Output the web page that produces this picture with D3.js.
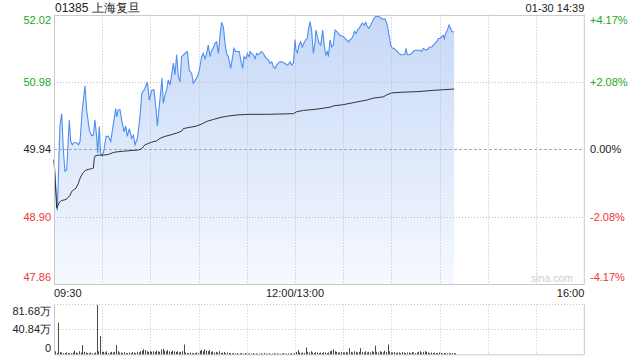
<!DOCTYPE html>
<html><head><meta charset="utf-8">
<script src="https://cdn.jsdelivr.net/npm/d3@7"></script>
<style>body{margin:0;background:#fff} svg text{font-family:"Liberation Sans",Arial,sans-serif}</style>
</head><body><svg id="c" width="640" height="360"></svg>
<script>
const title = "01385 上海复旦";
const stamp = "01-30 14:39";
const prevClose = 49.94;
const priceTicks = [52.02, 50.98, 49.94, 48.90, 47.86];
const pctTicks = ["+4.17%", "+2.08%", "0.00%", "-2.08%", "-4.17%"];
const timeTicks = [0, 150, 330];
const timeLabels = ["09:30", "12:00/13:00", "16:00"];
const totalMinutes = 330;
const volTicks = [81.68, 40.84, 0];
const volLabels = ["81.68万", "40.84万", "0"];

// minutes since 09:30 (afternoon continues at 150 = 13:00)
const priceMinutes = [0,2.1,3.7,4.8,5.8,6.8,7.9,9.5,10.4,11.4,12.4,14.1,15.3,16.2,17.6,19.3,20.3,22.0,23.4,24.5,25.5,26.5,27.2,28.2,29.0,30.1,31.1,32.4,33.8,35.3,36.9,38.4,39.0,40.0,41.1,42.1,43.6,44.6,45.6,46.9,48.3,49.4,50.4,51.9,53.5,54.6,56.6,58.1,59.3,60.8,62.2,63.5,64.3,65.3,66.6,67.2,68.0,69.1,70.1,71.1,72.2,73.2,74.3,75.3,76.3,77.4,78.4,79.4,81.5,83.0,84.2,85.7,86.7,88.2,89.2,90.4,91.9,92.9,94.0,95.0,96.0,97.1,98.1,99.1,100.2,101.2,102.3,103.3,104.3,105.4,106.4,107.4,108.5,109.9,111.2,112.0,113.0,114.1,115.3,116.2,117.4,118.2,119.5,120.3,121.5,122.0,123.0,124.0,125.1,126.1,127.2,128.2,129.2,130.3,131.3,132.3,133.4,134.4,135.5,136.5,137.5,138.6,139.6,140.6,141.7,142.7,143.7,144.8,145.8,146.9,147.9,149.0,150.0,150.6,151.4,152.5,153.5,154.5,155.6,156.6,157.6,158.3,159.3,160.3,161.4,162.4,163.0,163.9,164.9,166.0,167.2,168.0,169.1,170.1,170.7,171.8,172.8,173.8,174.9,175.9,177.0,178.0,180.1,182.1,183.2,184.2,185.2,186.3,186.9,188.0,188.8,190.0,191.0,191.9,192.9,194.0,195.0,196.0,197.1,198.1,199.1,200.2,201.8,202.9,204.5,206.0,207.0,207.6,208.7,209.5,210.5,211.6,212.6,213.7,214.7,215.7,217.4,218.4,219.0,219.9,221.1,222.6,223.6,224.6,225.7,226.7,227.8,228.8,229.8,230.9,231.9,233.0,234.0,235.0,236.1,237.1,238.1,239.2,240.2,241.2,242.3,242.9,243.7,244.8,245.8,246.8,247.5,249.0];
const prices = [49.78,49.00,50.32,50.49,49.93,49.60,49.62,50.39,50.06,50.01,50.04,50.04,50.01,50.06,50.55,50.92,50.55,50.24,50.15,50.16,50.39,50.14,49.88,50.29,49.88,49.84,49.93,50.14,50.14,50.06,50.32,50.57,50.44,50.55,50.55,50.39,50.21,50.30,50.14,50.26,50.11,50.16,50.01,50.11,50.44,50.80,50.88,50.98,50.70,50.85,50.86,50.55,50.30,50.55,50.88,51.04,50.65,50.78,50.86,51.01,50.93,51.09,51.27,51.09,51.40,51.06,50.98,51.37,51.42,51.45,51.16,51.11,50.96,51.02,51.06,51.16,51.37,51.42,51.34,51.42,51.55,51.37,51.47,51.50,51.58,51.60,51.42,51.70,51.90,51.83,51.58,51.42,51.37,51.19,51.37,51.50,51.45,51.45,51.45,51.32,51.19,51.37,51.34,51.42,51.37,51.45,51.42,51.40,51.34,51.42,51.40,51.43,51.45,51.42,51.37,51.34,51.32,51.27,51.29,51.22,51.19,51.24,51.27,51.29,51.29,51.28,51.27,51.24,51.25,51.29,51.24,51.27,51.63,51.47,51.43,51.55,51.60,51.52,51.58,51.63,51.65,51.78,51.91,51.78,51.42,51.58,51.78,51.68,51.58,51.55,51.78,51.58,51.40,51.45,51.37,51.63,51.52,51.55,51.78,51.76,51.73,51.70,51.68,51.63,51.60,51.63,51.65,51.70,51.76,51.73,51.78,51.81,51.86,51.89,51.86,51.90,51.83,51.81,51.86,51.91,51.96,51.99,51.99,51.98,51.95,51.95,51.89,51.83,51.68,51.55,51.50,51.50,51.47,51.45,51.42,51.40,51.40,51.41,51.50,51.40,51.40,51.42,51.45,51.47,51.47,51.47,51.47,51.45,51.50,51.48,51.47,51.50,51.52,51.52,51.55,51.58,51.60,51.65,51.65,51.68,51.70,51.65,51.73,51.78,51.86,51.81,51.76,51.75];

const avgMinutes = [0,1.7,3.3,4.8,6.8,8.3,10.0,11.0,12.0,13.7,15.1,16.2,17.2,18.2,19.9,21.4,23.4,24.5,25.1,25.7,27.6,30.7,33.8,36.9,39.0,43.1,47.3,52.5,54.6,56.6,58.7,60.8,63.9,66.0,69.1,72.2,76.3,79.4,80.5,84.6,88.8,91.9,95.0,99.1,103.3,107.4,113.7,121.5,132.3,149.0,151.0,155.2,163.5,171.8,173.8,180.1,184.2,188.3,194.6,198.7,205.0,207.0,209.1,210.1,215.3,225.7,236.1,242.3,249.0];
const avgPrices = [49.78,49.03,49.12,49.15,49.16,49.18,49.23,49.29,49.31,49.34,49.41,49.49,49.54,49.58,49.62,49.63,49.64,49.65,49.80,49.84,49.85,49.85,49.86,49.89,49.90,49.91,49.92,49.93,49.95,50.01,50.03,50.05,50.07,50.11,50.14,50.16,50.19,50.22,50.26,50.28,50.30,50.33,50.37,50.40,50.43,50.45,50.47,50.48,50.48,50.49,50.52,50.54,50.56,50.59,50.61,50.63,50.65,50.67,50.70,50.73,50.75,50.78,50.80,50.81,50.82,50.83,50.85,50.86,50.87];

// volume per minute, unit 万 shares
const volumes = [5,2,51.6,4,3,2,2,3,2,2, 1.5,3,6,3,2,5,3,15,4,3, 2,2,3,1.5,2,3,80.5,5,30,4,
 4,3,5,2,3,4,3,4,15,5, 3,3,2,4,2,2,3,2,4,3, 2,4,3,5,6,8,7,5,4,5,
 4,5,4,6,5,4,8,9,6,5, 7,5,4,6,5,4,5,3,4,5, 16,3,2,2,3,2,1.5,2,3,2,
 6,7,5,8,6,5,7,4,5,3, 4,3,5,2,3,4,2,3,2,2, 1.5,2,1.5,2,1,1.5,2,1,2,1.5,
 1,1.5,1,2,1,1.5,1,1,1.5,1, 2,1,1,1.5,1,1,2,1,1.5,1, 1,1.5,2,1,1,1.5,1,2,1,1.5,
 4,7,3,2,3,2,11,4,3,5, 3,2,4,3,2,3,2,4,3,2, 3,5,6,8,5,4,3,3,4,3,
 3,4,3,10,4,3,5,4,3,4, 10,4,3,5,3,4,3,5,4,14, 4,3,5,4,3,6,4,16,5,3,
 3,4,2,3,3,2,4,3,2,3, 3,2,4,3,2,3,4,5,3,4, 5,4,3,2,3,2,3,2,2,3, 2,1.5,2,2,1.5,2,1.5,2,2,1.5];

const green = "#22a822", red = "#f03333", grey = "#222";
const svg = d3.select("#c");
const L = 54, R = 584.3, T = 14.6, B = 284, VT = 304.3, VB = 354.3;
const x = d3.scaleLinear().domain([0, totalMinutes]).range([L, R]);
const y = d3.scaleLinear().domain([47.86, 52.02]).range([B, T]);
const yv = d3.scaleLinear().domain([0, 81.68]).range([VB, VT]);

const defs = svg.append("defs");
const grad = defs.append("linearGradient").attr("id", "g").attr("gradientUnits", "userSpaceOnUse")
  .attr("x1", 0).attr("x2", 0).attr("y1", T).attr("y2", B);
grad.append("stop").attr("offset", 0).attr("stop-color", "#c6d8f7");
grad.append("stop").attr("offset", 1).attr("stop-color", "#f6f9ff");

// area
const pts = priceMinutes.map((m, i) => [m, prices[i]]);
svg.append("path").datum(pts)
  .attr("d", d3.area().x(d => x(d[0])).y0(B).y1(d => y(d[1])))
  .attr("fill", "url(#g)");

// grid (drawn over the area)
const vlines = d3.range(30, totalMinutes, 30);
svg.append("g").selectAll("line").data(vlines).join("line")
  .attr("x1", d => Math.round(x(d)) + 0.5).attr("x2", d => Math.round(x(d)) + 0.5)
  .attr("y1", T).attr("y2", B).attr("stroke", "#bdbdbd").attr("stroke-dasharray", "1,2");
svg.append("g").selectAll("line").data(vlines).join("line")
  .attr("x1", d => Math.round(x(d)) + 0.5).attr("x2", d => Math.round(x(d)) + 0.5)
  .attr("y1", VT).attr("y2", VB).attr("stroke", "#c8c8c8").attr("stroke-dasharray", "1,2");
svg.append("g").selectAll("line").data([50.98, 48.90]).join("line")
  .attr("x1", L).attr("x2", R).attr("y1", d => Math.round(y(d)) + 0.5).attr("y2", d => Math.round(y(d)) + 0.5)
  .attr("stroke", "#bdbdbd").attr("stroke-dasharray", "1,2");
svg.append("line").attr("x1", L).attr("x2", R)
  .attr("y1", Math.round(y(prevClose)) + 0.5).attr("y2", Math.round(y(prevClose)) + 0.5)
  .attr("stroke", "#a8a8a8").attr("stroke-dasharray", "3,2");
svg.append("g").selectAll("line").data([81.68, 40.84]).join("line")
  .attr("x1", L).attr("x2", R).attr("y1", d => Math.round(yv(d)) + 0.5).attr("y2", d => Math.round(yv(d)) + 0.5)
  .attr("stroke", "#c8c8c8").attr("stroke-dasharray", "1,2");

// lines
svg.append("path").datum(pts)
  .attr("d", d3.line().x(d => x(d[0])).y(d => y(d[1])))
  .attr("fill", "none").attr("stroke", "#4d8ef0").attr("stroke-width", 1.1);
const apts = avgMinutes.map((m, i) => [m, avgPrices[i]]);
svg.append("path").datum(apts)
  .attr("d", d3.line().x(d => x(d[0])).y(d => y(d[1])))
  .attr("fill", "none").attr("stroke", "#333").attr("stroke-width", 1);

// borders
svg.append("path").attr("d", `M${L+0.5},${T}V${B+0.5}H${R}V${T}`).attr("fill", "none").attr("stroke", "#c8c8c8");
svg.append("line").attr("x1", L).attr("x2", R).attr("y1", Math.round(T)+0.5).attr("y2", Math.round(T)+0.5).attr("stroke", "#ccc");
svg.append("path").attr("d", `M${L+0.5},${VT}V${VB+0.5}H${R}V${VT}`).attr("fill", "none").attr("stroke", "#c8c8c8");

// volume bars
svg.append("g").selectAll("rect").data(volumes).join("rect")
  .attr("x", (d, i) => Math.round(x(i)) + 1).attr("width", 1)
  .attr("y", d => yv(d)).attr("height", d => VB - yv(d))
  .attr("fill", "#4a4a4a");

// labels
const lab = svg.append("g").attr("font-size", 11);
const clampY = v => Math.max(20, Math.min(277.5, y(v)));
lab.selectAll("text.pl").data(priceTicks).join("text").attr("class", "pl")
  .attr("x", 51).attr("y", d => clampY(d)).attr("dy", "0.35em").attr("text-anchor", "end")
  .attr("fill", d => d > prevClose ? green : d < prevClose ? red : grey)
  .text(d => d.toFixed(2));
lab.selectAll("text.pr").data(priceTicks).join("text").attr("class", "pr")
  .attr("x", 590).attr("y", d => clampY(d)).attr("dy", "0.35em")
  .attr("fill", d => d > prevClose ? green : d < prevClose ? red : grey)
  .text((d, i) => pctTicks[i]);
lab.selectAll("text.t").data(timeTicks).join("text").attr("class", "t")
  .attr("x", d => x(d)).attr("y", 297).attr("fill", grey)
  .attr("text-anchor", (d, i) => i === 0 ? "start" : i === timeTicks.length - 1 ? "end" : "middle")
  .text((d, i) => timeLabels[i]);
lab.selectAll("text.v").data(volTicks).join("text").attr("class", "v")
  .attr("x", 51).attr("y", d => Math.max(311.5, Math.min(348, yv(d)))).attr("dy", "0.35em")
  .attr("text-anchor", "end").attr("fill", grey)
  .text((d, i) => volLabels[i]);
svg.append("text").attr("x", 55).attr("y", 11.5).attr("font-size", 12).attr("fill", grey).text(title);
svg.append("text").attr("x", R).attr("y", 11.5).attr("font-size", 11).attr("text-anchor", "end").attr("fill", grey).text(stamp);
svg.append("text").attr("x", 573).attr("y", 282).attr("font-size", 10.5).attr("text-anchor", "end").attr("fill", "#cfcfcf").text("sina.com");
</script></body></html>
